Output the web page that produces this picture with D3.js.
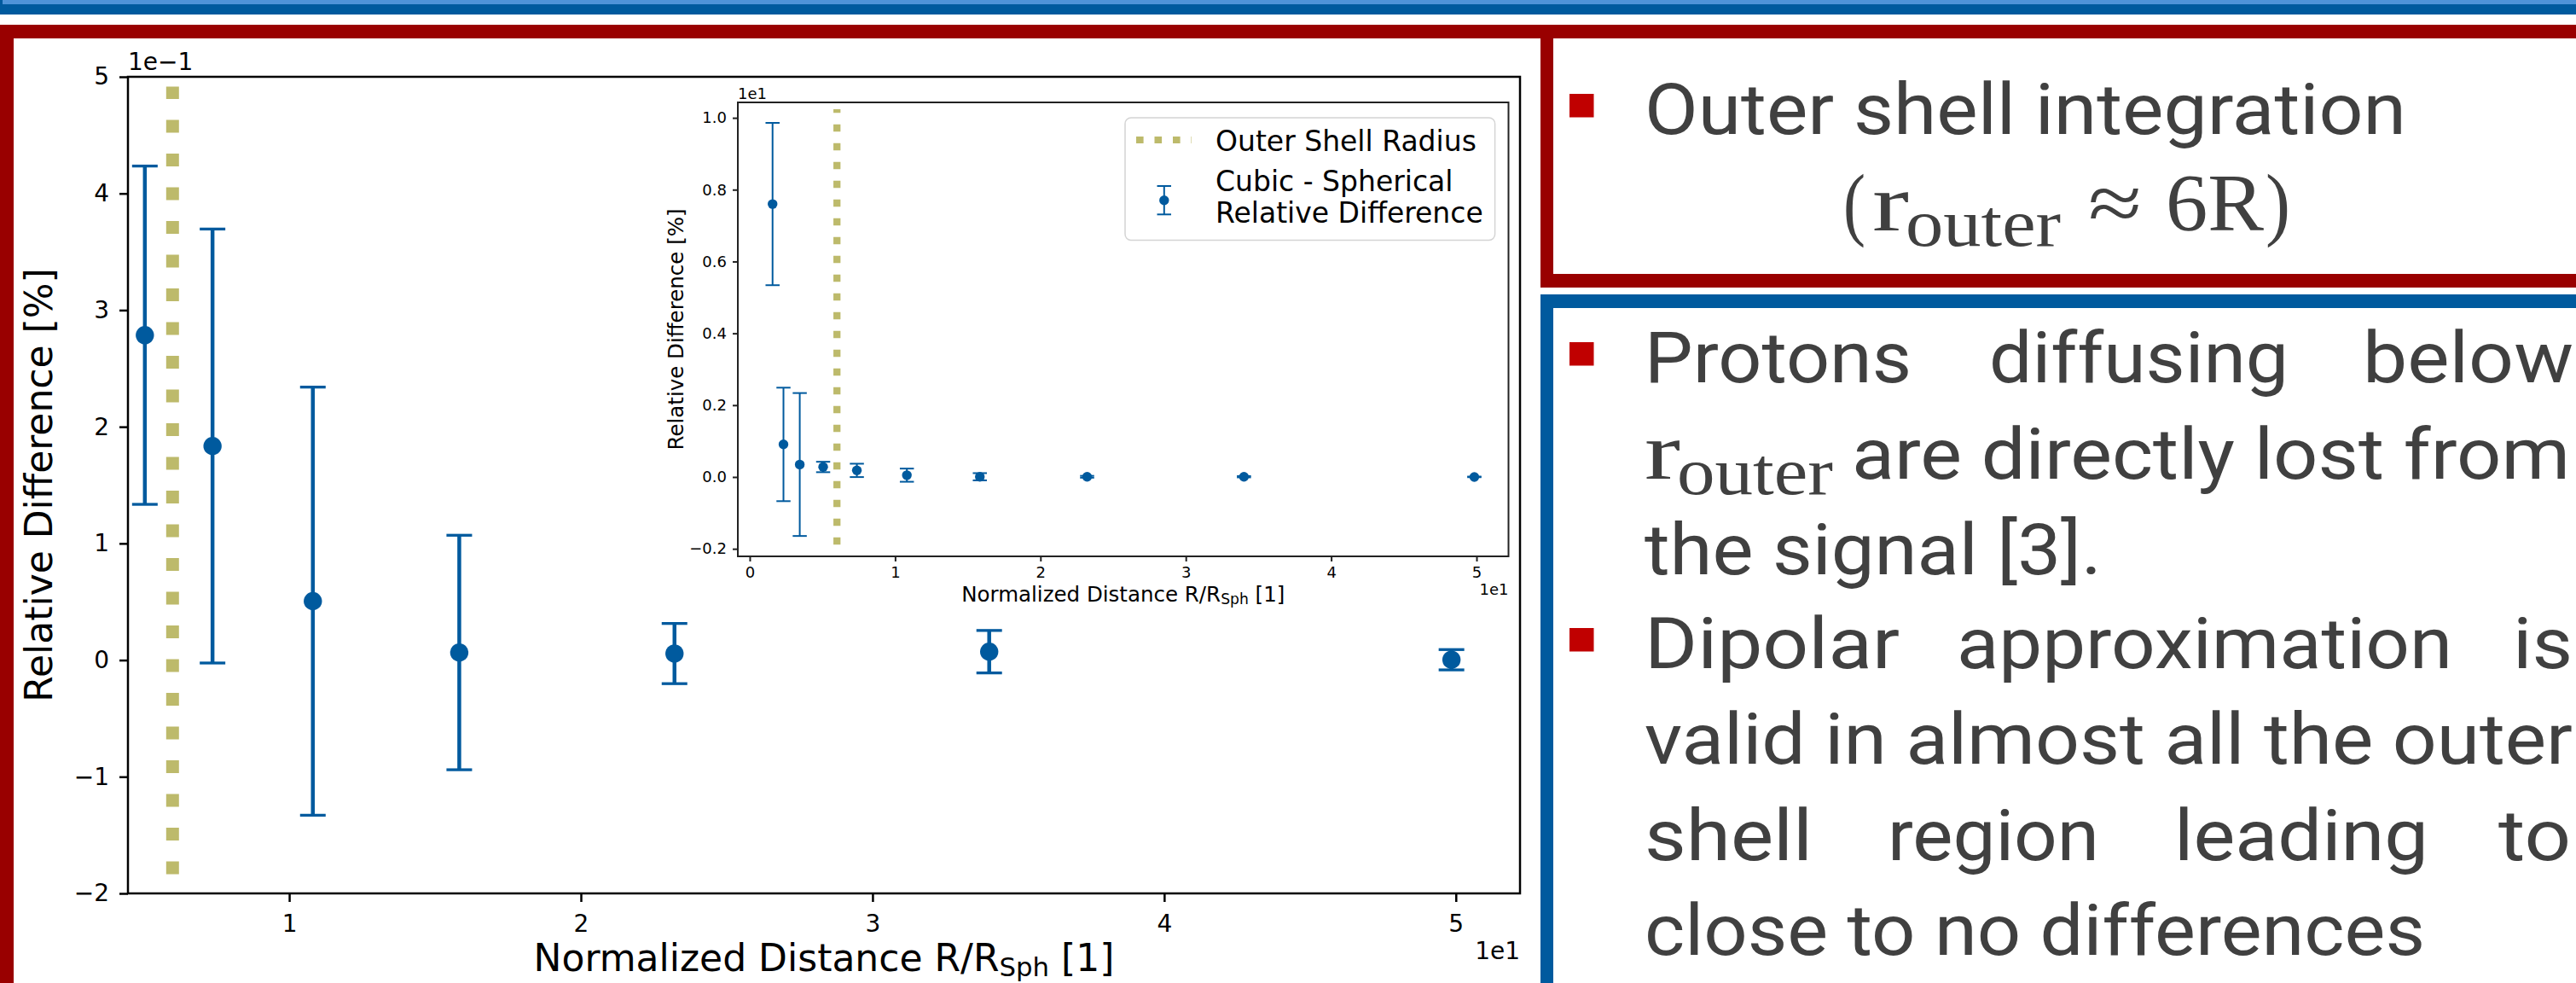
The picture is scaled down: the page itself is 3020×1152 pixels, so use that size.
<!DOCTYPE html>
<html>
<head>
<meta charset="utf-8">
<script src="https://cdn.jsdelivr.net/npm/d3@7"></script>
<style>
  body { margin: 0; background: #fff; }
  svg { display: block; }
</style>
</head>
<body>
<svg id="slide" width="3020" height="1152"></svg>
<script>
// ---- data: cubic vs spherical relative difference per normalized distance ----
const distance = [1.57, 2.32, 3.44, 5.05, 7.37, 10.81, 15.83, 23.21, 34.00, 49.85]; // R / R_Sph
const relDiff  = [7.60, 0.907, 0.347, 0.2785, 0.1835, 0.0505, 0.0065, 0.0056, 0.0072, 0.0003]; // %
const relErr   = [2.26, 1.58, 1.99, 0.145, 0.186, 0.1835, 0.1005, 0.0258, 0.0182, 0.0087]; // %
const outerShellRadius = 6; // R / R_Sph

// tick positions (data units)
const mainXTicks  = [10, 20, 30, 40, 50];
const mainYTicks  = [-0.2, -0.1, 0, 0.1, 0.2, 0.3, 0.4, 0.5];
const insetXTicks = [0, 10, 20, 30, 40, 50];
const insetYTicks = [-2, 0, 2, 4, 6, 8, 10];

const legendLabels = ["Outer Shell Radius", ["Cubic - Spherical", "Relative Difference"]];

const W = 3020, H = 1152;
const BLUE = "#005a9e", OLIVE = "#bdba6b", RED = "#990000", BULLET = "#c00000", TXT = "#404040";
const FONT = "DejaVu Sans";

const svg = d3.select("#slide");
const defs = svg.append("defs");
const rows = d3.range(distance.length).map(i => ({ x: distance[i], y: relDiff[i], e: relErr[i] }));

// ---- slide frames ----
svg.append("rect").attr("x", 0).attr("y", 0).attr("width", W).attr("height", 6).attr("fill", "#4f93d8");
svg.append("rect").attr("x", 0).attr("y", 5).attr("width", W).attr("height", 12).attr("fill", BLUE);
svg.append("rect").attr("x", 0).attr("y", 0).attr("width", 3).attr("height", 17).attr("fill", BLUE);
// red frame around the figure
svg.append("rect").attr("x", 0).attr("y", 29).attr("width", W).attr("height", 16).attr("fill", RED);
svg.append("rect").attr("x", 0).attr("y", 29).attr("width", 16).attr("height", H - 29).attr("fill", RED);
// red text box (top right)
svg.append("rect").attr("x", 1806).attr("y", 29).attr("width", 15).attr("height", 308).attr("fill", RED);
svg.append("rect").attr("x", 1806).attr("y", 321).attr("width", W - 1806).attr("height", 16).attr("fill", RED);
// blue text box (bottom right)
svg.append("rect").attr("x", 1806).attr("y", 345).attr("width", W - 1806).attr("height", 16).attr("fill", BLUE);
svg.append("rect").attr("x", 1806).attr("y", 345).attr("width", 15).attr("height", H - 345).attr("fill", BLUE);

// ---- shared drawing helpers ----
function errorBars(g, xs, ys, o) {
  const grp = g.selectAll("g.eb").data(rows).join("g").attr("class", "eb");
  grp.append("line")
    .attr("x1", d => xs(d.x)).attr("x2", d => xs(d.x))
    .attr("y1", d => ys(d.y - d.e)).attr("y2", d => ys(d.y + d.e))
    .attr("stroke", BLUE).attr("stroke-width", o.lw);
  [-1, 1].forEach(s => {
    grp.append("line")
      .attr("x1", d => xs(d.x) - o.cap / 2).attr("x2", d => xs(d.x) + o.cap / 2)
      .attr("y1", d => ys(d.y + s * d.e)).attr("y2", d => ys(d.y + s * d.e))
      .attr("stroke", BLUE).attr("stroke-width", o.capW);
  });
  grp.append("circle").attr("cx", d => xs(d.x)).attr("cy", d => ys(d.y)).attr("r", o.r).attr("fill", BLUE);
}

function styleAxis(g, size, tickW, color) {
  g.select(".domain").remove();
  g.attr("font-family", FONT).attr("font-size", size);
  g.selectAll("text").attr("fill", "#000");
  g.selectAll(".tick line").attr("stroke", color).attr("stroke-width", tickW);
}

function shellLine(g, xs, box, frac0, frac1, lw, dash) {
  const h = box.b - box.t;
  g.append("path")
    .attr("d", d3.line()([[xs(outerShellRadius), box.b - frac0 * h], [xs(outerShellRadius), box.b - frac1 * h]]))
    .attr("stroke", OLIVE).attr("stroke-width", lw).attr("stroke-dasharray", dash).attr("fill", "none");
}

// ---- main axes ----
const mb = { l: 150, r: 1782, t: 90, b: 1047 };
const xMain = d3.scaleLinear().domain([4.47, 52.2]).range([mb.l, mb.r]);
const yMain = d3.scaleLinear().domain([-0.2, 0.5]).range([mb.b, mb.t]);

svg.append("rect").attr("x", mb.l).attr("y", mb.t).attr("width", mb.r - mb.l).attr("height", mb.b - mb.t).attr("fill", "#fff");
defs.append("clipPath").attr("id", "clipMain").append("rect")
  .attr("x", mb.l).attr("y", mb.t).attr("width", mb.r - mb.l).attr("height", mb.b - mb.t);
const mainPlot = svg.append("g").attr("clip-path", "url(#clipMain)");
shellLine(mainPlot, xMain, mb, 0.0235, 0.988, 15, "15 24.5");
errorBars(mainPlot, xMain, yMain, { lw: 4.5, cap: 30, capW: 3.3, r: 10.7 });

const gxMain = svg.append("g").attr("transform", `translate(0,${mb.b})`)
  .call(d3.axisBottom(xMain).tickValues(mainXTicks).tickFormat(v => d3.format("d")(v / 10))
    .tickSize(10).tickPadding(15).tickSizeOuter(0));
styleAxis(gxMain, 28, 2.5, "#000");
const gyMain = svg.append("g").attr("transform", `translate(${mb.l},0)`)
  .call(d3.axisLeft(yMain).tickValues(mainYTicks).tickFormat(v => d3.format("d")(v * 10))
    .tickSize(10).tickPadding(12).tickSizeOuter(0));
styleAxis(gyMain, 28, 2.5, "#000");
svg.append("rect").attr("x", mb.l).attr("y", mb.t).attr("width", mb.r - mb.l).attr("height", mb.b - mb.t)
  .attr("fill", "none").attr("stroke", "#000").attr("stroke-width", 2.5);

svg.append("text").attr("x", mb.l).attr("y", 82).attr("font-family", FONT).attr("font-size", 28).text("1e\u22121");
svg.append("text").attr("x", mb.r).attr("y", 1124).attr("text-anchor", "end").attr("font-family", FONT).attr("font-size", 28).text("1e1");

function xLabel(x, y, size) {
  const t = svg.append("text").attr("x", x).attr("y", y).attr("text-anchor", "middle")
    .attr("font-family", FONT).attr("font-size", size);
  t.append("tspan").text("Normalized Distance R/R");
  t.append("tspan").attr("font-size", "70%").attr("dy", "0.2em").text("Sph");
  t.append("tspan").attr("dy", "-0.14em").text(" [1]");
}
function yLabel(x, y, size) {
  svg.append("text").attr("transform", `translate(${x},${y}) rotate(-90)`).attr("text-anchor", "middle")
    .attr("font-family", FONT).attr("font-size", size).text("Relative Difference [%]");
}
xLabel((mb.l + mb.r) / 2, 1138, 44);
yLabel(61, (mb.t + mb.b) / 2, 44);

// ---- inset axes ----
const ib = { l: 865, r: 1768.5, t: 120, b: 652 };
const xIn = d3.scaleLinear().domain([-0.82, 52.2]).range([ib.l, ib.r]);
const yIn = d3.scaleLinear().domain([-2.21, 10.43]).range([ib.b, ib.t]);

svg.append("rect").attr("x", ib.l).attr("y", ib.t).attr("width", ib.r - ib.l).attr("height", ib.b - ib.t).attr("fill", "#fff");
defs.append("clipPath").attr("id", "clipInset").append("rect")
  .attr("x", ib.l).attr("y", ib.t).attr("width", ib.r - ib.l).attr("height", ib.b - ib.t);
const inPlot = svg.append("g").attr("clip-path", "url(#clipInset)");
shellLine(inPlot, xIn, ib, 0.026, 0.985, 8.3, "8.3 13.7");
errorBars(inPlot, xIn, yIn, { lw: 2, cap: 16.5, capW: 2, r: 5.7 });

const gxIn = svg.append("g").attr("transform", `translate(0,${ib.b})`)
  .call(d3.axisBottom(xIn).tickValues(insetXTicks).tickFormat(v => d3.format("d")(v / 10))
    .tickSize(6).tickPadding(6).tickSizeOuter(0));
styleAxis(gxIn, 18, 2, "#222");
const gyIn = svg.append("g").attr("transform", `translate(${ib.l},0)`)
  .call(d3.axisLeft(yIn).tickValues(insetYTicks).tickFormat(v => d3.format(".1f")(v / 10))
    .tickSize(6).tickPadding(7).tickSizeOuter(0));
styleAxis(gyIn, 18, 2, "#222");
svg.append("rect").attr("x", ib.l).attr("y", ib.t).attr("width", ib.r - ib.l).attr("height", ib.b - ib.t)
  .attr("fill", "none").attr("stroke", "#222").attr("stroke-width", 2);

svg.append("text").attr("x", ib.l).attr("y", 116).attr("font-family", FONT).attr("font-size", 18).text("1e1");
svg.append("text").attr("x", ib.r).attr("y", 697).attr("text-anchor", "end").attr("font-family", FONT).attr("font-size", 18).text("1e1");
xLabel((ib.l + ib.r) / 2, 705, 24.5);
yLabel(801, (ib.t + ib.b) / 2, 24.5);

// legend
const lg = svg.append("g");
lg.append("rect").attr("x", 1319).attr("y", 138).attr("width", 433.6).attr("height", 143.6).attr("rx", 7)
  .attr("fill", "#fff").attr("fill-opacity", 0.8).attr("stroke", "#d4d4d4").attr("stroke-width", 1.5);
lg.append("line").attr("x1", 1332).attr("x2", 1397).attr("y1", 164).attr("y2", 164)
  .attr("stroke", OLIVE).attr("stroke-width", 8).attr("stroke-dasharray", "8.6 12.9");
lg.append("text").attr("x", 1425).attr("y", 176.7).attr("font-family", FONT).attr("font-size", 33).text(legendLabels[0]);
lg.append("line").attr("x1", 1364.8).attr("x2", 1364.8).attr("y1", 218).attr("y2", 251.3).attr("stroke", BLUE).attr("stroke-width", 2);
[218, 251.3].forEach(y => lg.append("line").attr("x1", 1356.5).attr("x2", 1373).attr("y1", y).attr("y2", y).attr("stroke", BLUE).attr("stroke-width", 2));
lg.append("circle").attr("cx", 1364.8).attr("cy", 234.7).attr("r", 5.7).attr("fill", BLUE);
legendLabels[1].forEach((s, i) => lg.append("text").attr("x", 1425).attr("y", [224.4, 261][i])
  .attr("font-family", FONT).attr("font-size", 33).text(s));

// ---- bullet text ----
const SANS = "Roboto", SERIF = "Liberation Serif";
function word(s, x0, x1, y, size, family) {
  svg.append("text").attr("x", x0 - 4).attr("y", y).attr("font-family", family || SANS).attr("font-size", size || 84)
    .attr("font-weight", 400)
    .attr("fill", TXT).attr("textLength", x1 - x0 + 8).attr("lengthAdjust", "spacingAndGlyphs").text(s);
}
function bullet(y) {
  svg.append("rect").attr("x", 1840).attr("y", y).attr("width", 28.5).attr("height", 27.5).attr("fill", BULLET);
}

bullet(110);
word("Outer shell integration", 1932, 2817, 157);
word("(", 2165, 2183, 270, 95, SERIF);
word("r", 2199, 2234, 270, 95, SERIF);
word("outer", 2238, 2412, 288, 78, SERIF);
word("\u2248", 2452, 2507, 270, 95, SERIF);
word("6R", 2543, 2650, 270, 95, SERIF);
word(")", 2660, 2681, 270, 95, SERIF);

bullet(401);
word("Protons", 1932, 2237, 448);
word("diffusing", 2336, 2679, 448);
word("below", 2774, 3013, 448);
word("r", 1932, 1966, 560.6, 95, SERIF);
word("outer", 1970, 2145, 579, 78, SERIF);
word("are directly lost from", 2175, 3009, 560.6);
word("the signal [3].", 1932, 2460, 673);

bullet(736);
word("Dipolar", 1932, 2223, 783);
word("approximation", 2298, 2871, 783);
word("is", 2950, 3012, 783);
word("valid in almost all the outer", 1932, 3012, 895);
word("shell", 1932, 2121, 1007.7);
word("region", 2217, 2457, 1007.7);
word("leading", 2553, 2843, 1007.7);
word("to", 2933, 3010, 1007.7);
word("close to no differences", 1932, 2839, 1118.8);
</script>
</body>
</html>
